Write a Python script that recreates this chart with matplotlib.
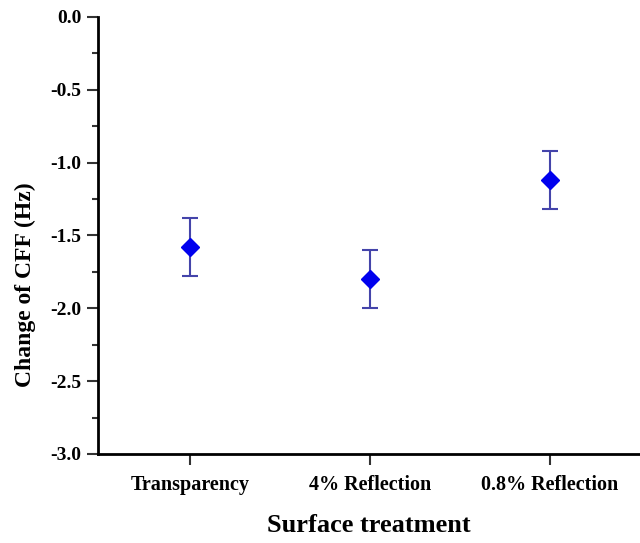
import numpy as np
import matplotlib.pyplot as plt
from matplotlib.ticker import MultipleLocator

categories = ["Transparency", "4% Reflection", "0.8% Reflection"]
cff_change = [-1.58, -1.80, -1.12]
cff_err = [0.20, 0.20, 0.20]
y_ticks = [-3.0, -2.5, -2.0, -1.5, -1.0, -0.5, 0.0]

plt.rcParams['font.family'] = ['Liberation Serif', 'DejaVu Serif']
plt.rcParams['font.weight'] = 'bold'

fig = plt.figure(figsize=(6.4, 5.43), dpi=100)
ax = fig.add_axes([0.153, 0.164, 0.847, 0.805])

xs = np.arange(1, len(categories) + 1)
ax.errorbar(xs, cff_change, yerr=cff_err, fmt='D', color='#0000ee',
            markersize=9, ecolor='#4444aa', elinewidth=1.5, capsize=6, capthick=1.5)

ax.set_xticks(xs)
ax.set_xticklabels(categories, fontsize=14.5, fontweight='bold')
ax.set_yticks(y_ticks)
ax.set_yticklabels([f"{v:.1f}" for v in y_ticks], fontsize=14, fontweight='bold')
ax.yaxis.set_minor_locator(MultipleLocator(0.25))
ax.set_xlim(0.49, 3.5)
ax.set_ylim(-3.0, 0.0)

for s in ['top', 'right']:
    ax.spines[s].set_visible(False)
for s in ['left', 'bottom']:
    ax.spines[s].set_linewidth(2)
ax.tick_params(axis='both', which='major', direction='out', length=8, width=1.5, color='#333333')
ax.tick_params(axis='y', which='minor', direction='out', length=4, width=1.5, color='#333333')
ax.tick_params(axis='x', which='major', pad=7)
ax.tick_params(axis='y', which='major', pad=4)

ax.set_xlabel("Surface treatment", fontsize=19, fontweight='bold', labelpad=14)
ax.set_ylabel("Change of CFF (Hz)", fontsize=17, fontweight='bold')
ax.yaxis.set_label_coords(-0.115, 0.387)

fig.savefig("out.png", dpi=100)
